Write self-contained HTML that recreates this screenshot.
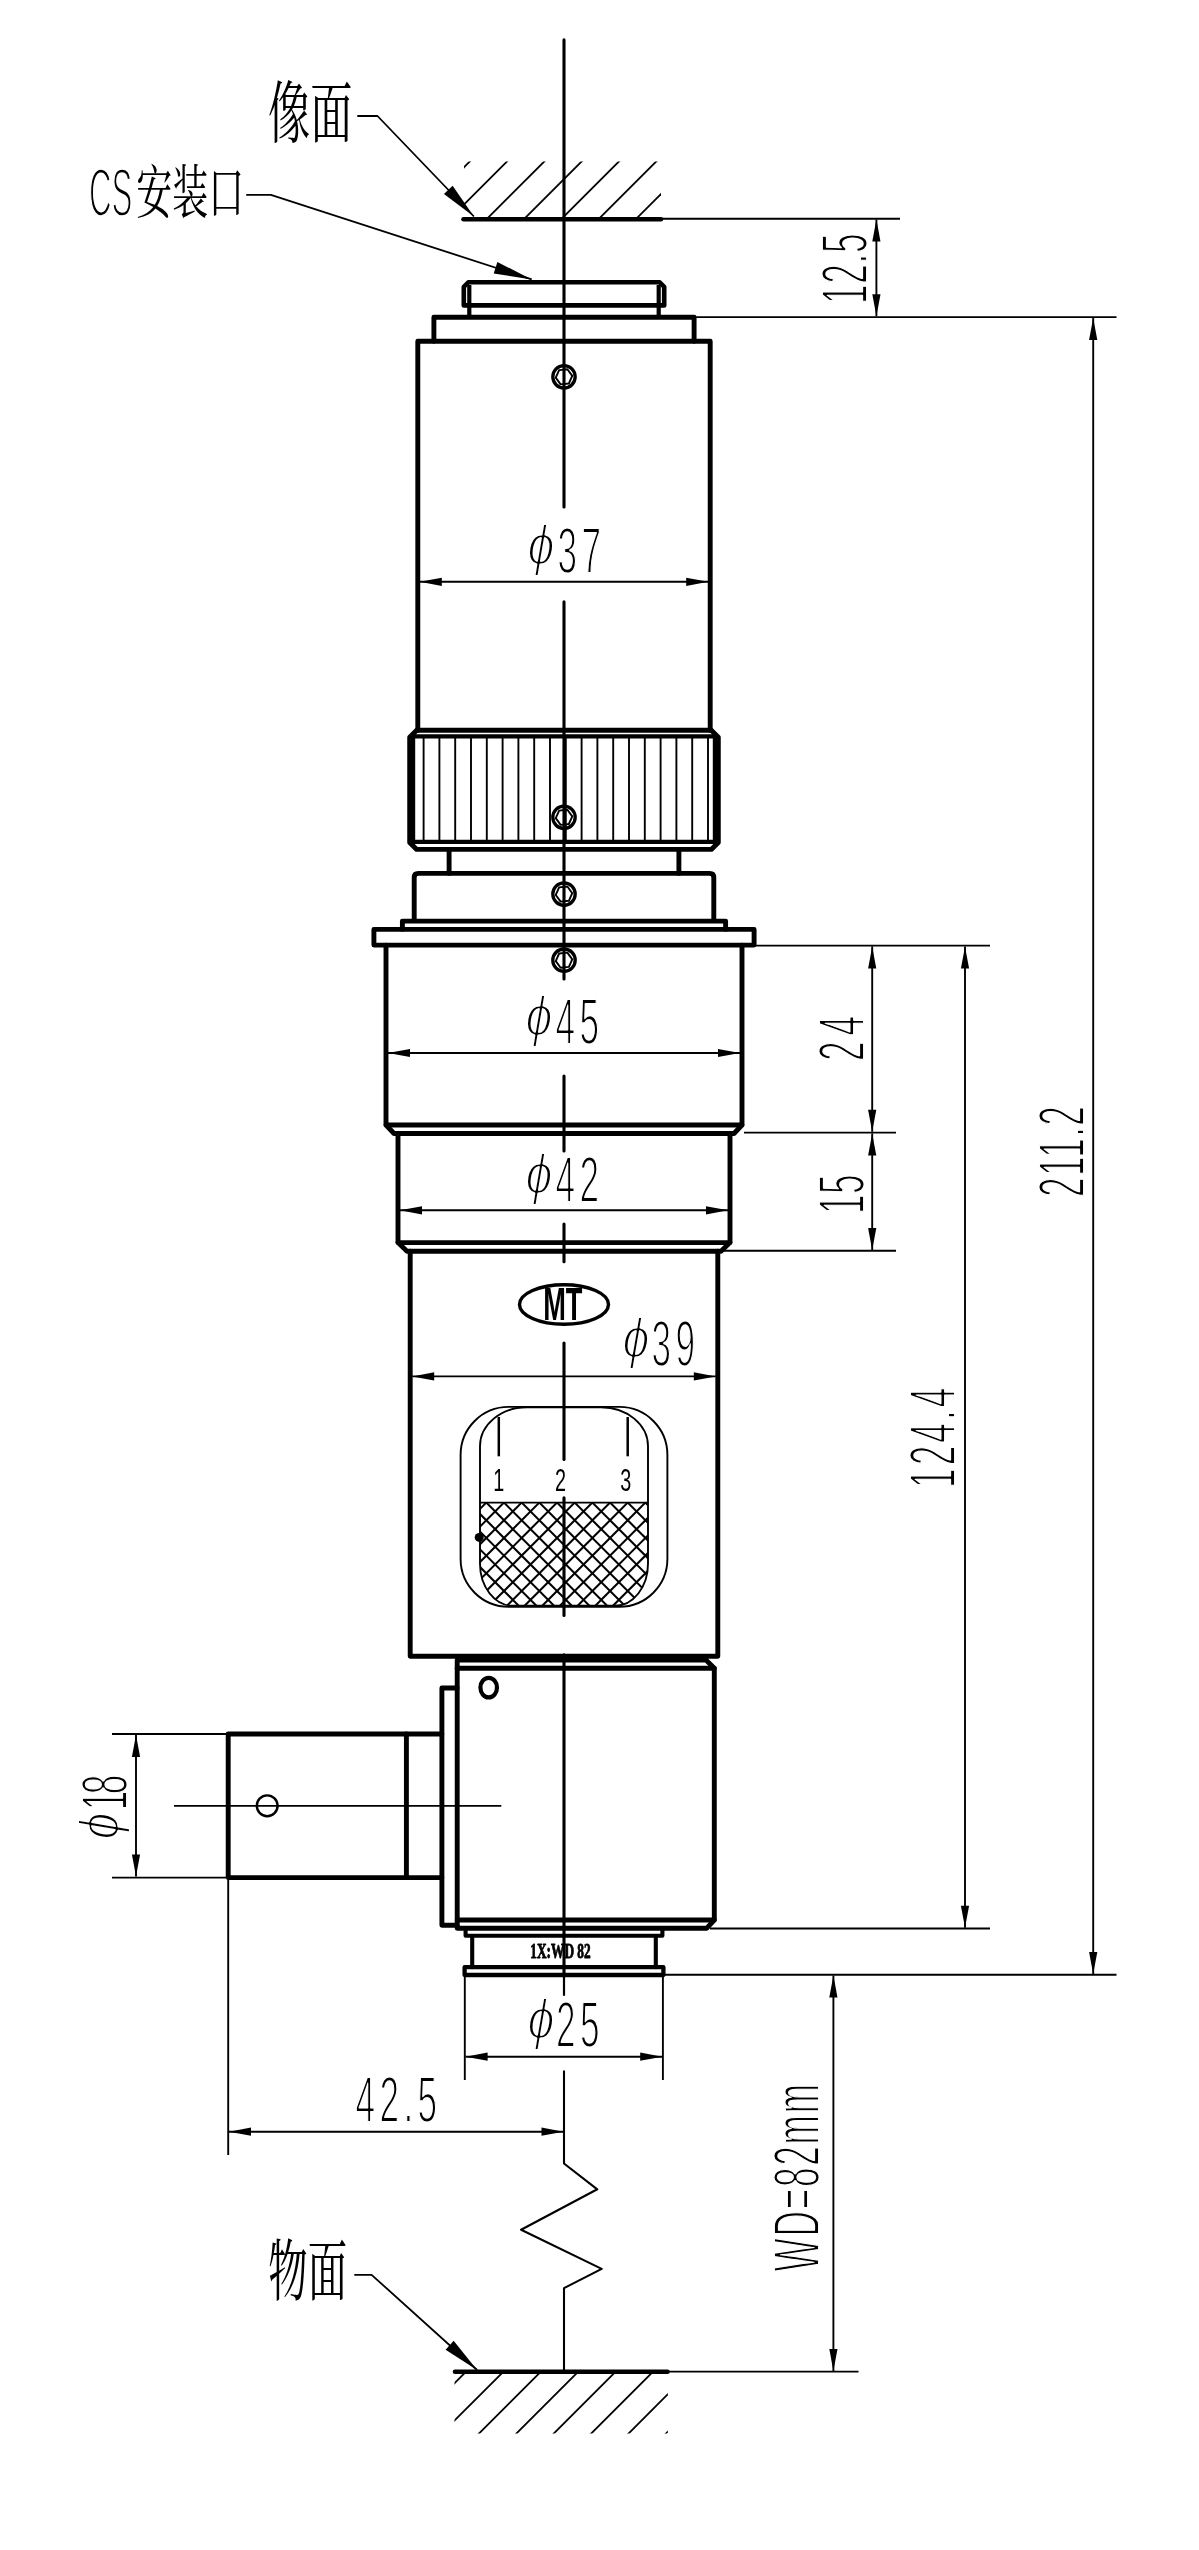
<!DOCTYPE html>
<html lang="zh"><head><meta charset="utf-8"><title>drawing</title>
<style>html,body{margin:0;padding:0;background:#fff}svg{display:block;will-change:transform;filter:grayscale(1)}</style></head>
<body>
<svg width="1199" height="2550" viewBox="0 0 1199 2550" fill="none" stroke="#000" stroke-linejoin="round">
<rect x="0" y="0" width="1199" height="2550" fill="#fff" stroke="none"/>
<text transform="translate(527.5 563.5) scale(0.76 0.86)" font-family="'Liberation Sans',sans-serif" font-size="64" font-weight="normal" font-style="italic" text-anchor="start" fill="#000" stroke="#fff" stroke-width="2.4" >ϕ</text>
<text transform="translate(557.5 572.5) scale(0.55 1)" font-family="'Liberation Sans',sans-serif" font-size="64" font-weight="normal" font-style="normal" text-anchor="start" fill="#000" stroke="#fff" stroke-width="1.9"  letter-spacing="8">37</text>
<text transform="translate(525.5 1034.5) scale(0.76 0.86)" font-family="'Liberation Sans',sans-serif" font-size="64" font-weight="normal" font-style="italic" text-anchor="start" fill="#000" stroke="#fff" stroke-width="2.4" >ϕ</text>
<text transform="translate(555.5 1043.7) scale(0.55 1)" font-family="'Liberation Sans',sans-serif" font-size="64" font-weight="normal" font-style="normal" text-anchor="start" fill="#000" stroke="#fff" stroke-width="1.9"  letter-spacing="8">45</text>
<text transform="translate(525.5 1192.5) scale(0.76 0.86)" font-family="'Liberation Sans',sans-serif" font-size="64" font-weight="normal" font-style="italic" text-anchor="start" fill="#000" stroke="#fff" stroke-width="2.4" >ϕ</text>
<text transform="translate(555.5 1201.5) scale(0.55 1)" font-family="'Liberation Sans',sans-serif" font-size="64" font-weight="normal" font-style="normal" text-anchor="start" fill="#000" stroke="#fff" stroke-width="1.9"  letter-spacing="8">42</text>
<text transform="translate(622.5 1357.3) scale(0.76 0.86)" font-family="'Liberation Sans',sans-serif" font-size="64" font-weight="normal" font-style="italic" text-anchor="start" fill="#000" stroke="#fff" stroke-width="2.4" >ϕ</text>
<text transform="translate(651.5 1366.3) scale(0.55 1)" font-family="'Liberation Sans',sans-serif" font-size="64" font-weight="normal" font-style="normal" text-anchor="start" fill="#000" stroke="#fff" stroke-width="1.9"  letter-spacing="8">39</text>
<text transform="translate(527.4 2037.8) scale(0.76 0.86)" font-family="'Liberation Sans',sans-serif" font-size="64" font-weight="normal" font-style="italic" text-anchor="start" fill="#000" stroke="#fff" stroke-width="2.4" >ϕ</text>
<text transform="translate(556 2046.8) scale(0.55 1)" font-family="'Liberation Sans',sans-serif" font-size="64" font-weight="normal" font-style="normal" text-anchor="start" fill="#000" stroke="#fff" stroke-width="1.9"  letter-spacing="8">25</text>
<text transform="translate(355.5 2121.7) scale(0.55 1)" font-family="'Liberation Sans',sans-serif" font-size="64" font-weight="normal" font-style="normal" text-anchor="start" fill="#000" stroke="#fff" stroke-width="1.9"  letter-spacing="8">42.5</text>
<text transform="translate(867.2 304) rotate(-90) scale(0.55 1)" font-family="'Liberation Sans',sans-serif" font-size="64" font-weight="normal" font-style="normal" text-anchor="start" fill="#000" stroke="#fff" stroke-width="1.9"  letter-spacing="1.3">12.5</text>
<text transform="translate(863.5 1061) rotate(-90) scale(0.55 1)" font-family="'Liberation Sans',sans-serif" font-size="64" font-weight="normal" font-style="normal" text-anchor="start" fill="#000" stroke="#fff" stroke-width="1.9"  letter-spacing="11">24</text>
<text transform="translate(863.5 1214) rotate(-90) scale(0.55 1)" font-family="'Liberation Sans',sans-serif" font-size="64" font-weight="normal" font-style="normal" text-anchor="start" fill="#000" stroke="#fff" stroke-width="1.9"  letter-spacing="0.7">15</text>
<text transform="translate(955.3 1488) rotate(-90) scale(0.55 1)" font-family="'Liberation Sans',sans-serif" font-size="64" font-weight="normal" font-style="normal" text-anchor="start" fill="#000" stroke="#fff" stroke-width="1.9"  letter-spacing="5.6">124.4</text>
<text transform="translate(1084 1197) rotate(-90) scale(0.55 1)" font-family="'Liberation Sans',sans-serif" font-size="64" font-weight="normal" font-style="normal" text-anchor="start" fill="#000" stroke="#fff" stroke-width="1.9"  letter-spacing="2.5">211.2</text>
<text transform="translate(819.3 2271.5) rotate(-90) scale(0.55 1)" font-family="'Liberation Sans',sans-serif" font-size="64" font-weight="normal" font-style="normal" text-anchor="start" fill="#000" stroke="#fff" stroke-width="1.9"  letter-spacing="3.2">WD=82mm</text>
<text transform="translate(117.5 1839.5) rotate(-90) scale(0.76 0.86)" font-family="'Liberation Sans',sans-serif" font-size="64" font-weight="normal" font-style="italic" text-anchor="start" fill="#000" stroke="#fff" stroke-width="2.4" >ϕ</text>
<text transform="translate(126.5 1810.2) rotate(-90) scale(0.55 1)" font-family="'Liberation Sans',sans-serif" font-size="64" font-weight="normal" font-style="normal" text-anchor="start" fill="#000" stroke="#fff" stroke-width="1.9"  letter-spacing="-6.5">18</text>
<text transform="translate(493.3 1490.6) scale(0.62 1)" font-family="'Liberation Sans',sans-serif" font-size="32" font-weight="normal" font-style="normal" text-anchor="start" fill="#000" stroke="none" >1</text>
<text transform="translate(555 1490.6) scale(0.62 1)" font-family="'Liberation Sans',sans-serif" font-size="32" font-weight="normal" font-style="normal" text-anchor="start" fill="#000" stroke="none" >2</text>
<text transform="translate(620.3 1490.6) scale(0.62 1)" font-family="'Liberation Sans',sans-serif" font-size="32" font-weight="normal" font-style="normal" text-anchor="start" fill="#000" stroke="none" >3</text>
<text transform="translate(562.8 1320.3) scale(0.585 1)" font-family="'Liberation Sans',sans-serif" font-size="46.5" font-weight="bold" font-style="normal" text-anchor="middle" fill="#000" stroke="none" >MT</text>
<text transform="translate(560.5 1957.8) scale(0.62 1)" font-family="'Liberation Serif',serif" font-size="21.5" font-weight="bold" font-style="normal" text-anchor="middle" fill="#000" stroke="#000" stroke-width="0.9" >1X:WD 82</text>
<text transform="translate(268 136.9) scale(0.63 1)" font-family="'Liberation Serif','Noto Serif CJK SC','Noto Sans CJK SC',serif" font-size="67" font-weight="normal" font-style="normal" text-anchor="start" fill="#000" stroke="none" >像面</text>
<text transform="translate(89 215.8) scale(0.46 1)" font-family="'Liberation Sans',sans-serif" font-size="68" font-weight="normal" font-style="normal" text-anchor="start" fill="#000" stroke="#fff" stroke-width="2.3" >CS</text>
<text transform="translate(136.3 212.5) scale(0.62 1)" font-family="'Liberation Serif','Noto Serif CJK SC','Noto Sans CJK SC',serif" font-size="58" font-weight="normal" font-style="normal" text-anchor="start" fill="#000" stroke="none" >安装口</text>
<text transform="translate(268.3 2294.7) scale(0.588 1)" font-family="'Liberation Serif','Noto Serif CJK SC','Noto Sans CJK SC',serif" font-size="67" font-weight="normal" font-style="normal" text-anchor="start" fill="#000" stroke="none" >物面</text>
<line x1="564" y1="39.9" x2="564" y2="507" stroke-width="3.1" stroke-linecap="round"/>
<line x1="564" y1="601.9" x2="564" y2="978.9" stroke-width="3.1" stroke-linecap="round"/>
<line x1="564" y1="1076" x2="564" y2="1151" stroke-width="3.1" stroke-linecap="round"/>
<line x1="564" y1="1224.1" x2="564" y2="1261.8" stroke-width="3.1" stroke-linecap="round"/>
<line x1="564" y1="1343.1" x2="564" y2="1459.5" stroke-width="3.1" stroke-linecap="round"/>
<line x1="564" y1="1497.8" x2="564" y2="1615.5" stroke-width="3.1" stroke-linecap="round"/>
<line x1="564" y1="1654.9" x2="564" y2="1975.5" stroke-width="3.1" stroke-linecap="round"/>
<line x1="564" y1="1975" x2="564" y2="1995" stroke-width="2.2" stroke-linecap="round"/>
<path d="M564 2070.5 L564 2163.5 L597.3 2189.3 L521.1 2229.7 L601.7 2268.9 L564 2288.1 L564 2371.6" stroke-width="2.1" stroke-linejoin="round" stroke-linecap="butt"/>
<clipPath id="h1"><rect x="464" y="161.4" width="197" height="57"/></clipPath>
<g clip-path="url(#h1)">
<line x1="404.2" y1="227" x2="484.2" y2="147" stroke-width="1.8" stroke-linecap="butt"/>
<line x1="441.5" y1="227" x2="521.5" y2="147" stroke-width="1.8" stroke-linecap="butt"/>
<line x1="478.8" y1="227" x2="558.8" y2="147" stroke-width="1.8" stroke-linecap="butt"/>
<line x1="516.1" y1="227" x2="596.1" y2="147" stroke-width="1.8" stroke-linecap="butt"/>
<line x1="553.4" y1="227" x2="633.4" y2="147" stroke-width="1.8" stroke-linecap="butt"/>
<line x1="590.7" y1="227" x2="670.7" y2="147" stroke-width="1.8" stroke-linecap="butt"/>
<line x1="628" y1="227" x2="708" y2="147" stroke-width="1.8" stroke-linecap="butt"/>
<line x1="665.3" y1="227" x2="745.3" y2="147" stroke-width="1.8" stroke-linecap="butt"/>
</g>
<line x1="463.5" y1="219.2" x2="661" y2="219.2" stroke-width="4.6" stroke-linecap="round"/>
<line x1="661" y1="218.7" x2="900" y2="218.7" stroke-width="1.9" stroke-linecap="butt"/>
<path d="M357.3 116 L377.5 116 L473.9 216.5" stroke-width="1.8" stroke-linejoin="round" stroke-linecap="butt"/>
<polygon points="473.9,216.5 443.96,193.95 452.62,185.64" fill="#000" stroke="none"/>
<path d="M246.2 194.9 L270.9 194.9 L531.7 279.4" stroke-width="1.8" stroke-linejoin="round" stroke-linecap="butt"/>
<polygon points="531.7,279.4 493.7,273.4 497.4,261.98" fill="#000" stroke="none"/>
<path d="M463.8 305.4 L463.8 286.8 L468.3 282.3 L659.7 282.3 L664.2 286.8 L664.2 305.4 Z" stroke-width="4.6" stroke-linejoin="round" stroke-linecap="round"/>
<line x1="469.3" y1="285" x2="469.3" y2="317" stroke-width="4.2" stroke-linecap="butt"/>
<line x1="658.7" y1="285" x2="658.7" y2="317" stroke-width="4.2" stroke-linecap="butt"/>
<path d="M433.9 341.2 L433.9 317.2 L694.1 317.2 L694.1 341.2" stroke-width="4.9" stroke-linejoin="round" stroke-linecap="round"/>
<line x1="694.1" y1="317.1" x2="1116.5" y2="317.1" stroke-width="1.9" stroke-linecap="butt"/>
<path d="M417.8 730.2 L417.8 341.2 L710.2 341.2 L710.2 730.2" stroke-width="4.9" stroke-linejoin="round" stroke-linecap="round"/>
<circle cx="564" cy="376.8" r="11.2" stroke-width="3.3"/>
<path d="M572.25 375.93 L568.88 383.51 L560.62 384.38 L555.75 377.67 L559.12 370.09 L567.38 369.22 Z" stroke-width="1.9" stroke-linejoin="round" stroke-linecap="butt"/>
<line x1="419.8" y1="581.8" x2="708.2" y2="581.8" stroke-width="1.9" stroke-linecap="butt"/>
<polygon points="419.8,581.8 441.8,577.7 441.8,585.9" fill="#000" stroke="none"/>
<polygon points="708.2,581.8 686.2,585.9 686.2,577.7" fill="#000" stroke="none"/>
<path d="M416.7 730.2 L711.3 730.2 L718.3 737.2 L718.3 842.4 L711.3 849.4 L416.7 849.4 L409.7 842.4 L409.7 737.2 Z" stroke-width="4.9" stroke-linejoin="round" stroke-linecap="round"/>
<rect x="413.1" y="736.4" width="301.8" height="105.4" stroke-width="4.2"/>
<line x1="423.6" y1="738" x2="423.6" y2="840" stroke-width="1.9" stroke-linecap="butt"/>
<line x1="439.4" y1="738" x2="439.4" y2="840" stroke-width="1.9" stroke-linecap="butt"/>
<line x1="455.2" y1="738" x2="455.2" y2="840" stroke-width="1.9" stroke-linecap="butt"/>
<line x1="471" y1="738" x2="471" y2="840" stroke-width="1.9" stroke-linecap="butt"/>
<line x1="486.8" y1="738" x2="486.8" y2="840" stroke-width="1.9" stroke-linecap="butt"/>
<line x1="502.6" y1="738" x2="502.6" y2="840" stroke-width="1.9" stroke-linecap="butt"/>
<line x1="518.4" y1="738" x2="518.4" y2="840" stroke-width="1.9" stroke-linecap="butt"/>
<line x1="534.2" y1="738" x2="534.2" y2="840" stroke-width="1.9" stroke-linecap="butt"/>
<line x1="550" y1="738" x2="550" y2="840" stroke-width="1.9" stroke-linecap="butt"/>
<line x1="565.8" y1="738" x2="565.8" y2="840" stroke-width="1.9" stroke-linecap="butt"/>
<line x1="581.6" y1="738" x2="581.6" y2="840" stroke-width="1.9" stroke-linecap="butt"/>
<line x1="597.4" y1="738" x2="597.4" y2="840" stroke-width="1.9" stroke-linecap="butt"/>
<line x1="613.2" y1="738" x2="613.2" y2="840" stroke-width="1.9" stroke-linecap="butt"/>
<line x1="629" y1="738" x2="629" y2="840" stroke-width="1.9" stroke-linecap="butt"/>
<line x1="644.8" y1="738" x2="644.8" y2="840" stroke-width="1.9" stroke-linecap="butt"/>
<line x1="660.6" y1="738" x2="660.6" y2="840" stroke-width="1.9" stroke-linecap="butt"/>
<line x1="676.4" y1="738" x2="676.4" y2="840" stroke-width="1.9" stroke-linecap="butt"/>
<line x1="692.2" y1="738" x2="692.2" y2="840" stroke-width="1.9" stroke-linecap="butt"/>
<line x1="708" y1="738" x2="708" y2="840" stroke-width="1.9" stroke-linecap="butt"/>
<circle cx="564" cy="817.3" r="11.2" stroke-width="3.3"/>
<path d="M572.25 816.43 L568.88 824.01 L560.62 824.88 L555.75 818.17 L559.12 810.59 L567.38 809.72 Z" stroke-width="1.9" stroke-linejoin="round" stroke-linecap="butt"/>
<line x1="449.1" y1="849.4" x2="449.1" y2="873.4" stroke-width="4.9" stroke-linecap="round"/>
<line x1="678.9" y1="849.4" x2="678.9" y2="873.4" stroke-width="4.9" stroke-linecap="round"/>
<path d="M414.2 921.1 V877.4 Q414.2 873.4 418.2 873.4 H709.8 Q713.8 873.4 713.8 877.4 V921.1" stroke-width="4.9"/>
<circle cx="564" cy="894.1" r="11.2" stroke-width="3.3"/>
<path d="M572.25 893.23 L568.88 900.81 L560.62 901.68 L555.75 894.97 L559.12 887.39 L567.38 886.52 Z" stroke-width="1.9" stroke-linejoin="round" stroke-linecap="butt"/>
<path d="M402.4 929.4 L402.4 921.1 L725.6 921.1 L725.6 929.4" stroke-width="4.9" stroke-linejoin="round" stroke-linecap="round"/>
<rect x="373.9" y="929.4" width="380.2" height="15.7" stroke-width="4.9"/>
<line x1="755" y1="945.6" x2="990" y2="945.6" stroke-width="1.9" stroke-linecap="butt"/>
<path d="M386 945.1 L386 1125 L394 1133.5 L734 1133.5 L742 1125 L742 945.1" stroke-width="4.9" stroke-linejoin="round" stroke-linecap="round"/>
<line x1="386" y1="1125" x2="742" y2="1125" stroke-width="4.9" stroke-linecap="round"/>
<circle cx="564" cy="960.2" r="11.2" stroke-width="3.3"/>
<path d="M572.25 959.33 L568.88 966.91 L560.62 967.78 L555.75 961.07 L559.12 953.49 L567.38 952.62 Z" stroke-width="1.9" stroke-linejoin="round" stroke-linecap="butt"/>
<line x1="388" y1="1053" x2="740" y2="1053" stroke-width="1.9" stroke-linecap="butt"/>
<polygon points="388,1053 410,1048.9 410,1057.1" fill="#000" stroke="none"/>
<polygon points="740,1053 718,1057.1 718,1048.9" fill="#000" stroke="none"/>
<path d="M398 1133.5 L398 1242.6 L407 1251.2 L721 1251.2 L730 1242.6 L730 1133.5" stroke-width="4.9" stroke-linejoin="round" stroke-linecap="round"/>
<line x1="398" y1="1242.6" x2="730" y2="1242.6" stroke-width="4.9" stroke-linecap="round"/>
<line x1="400" y1="1210.3" x2="728" y2="1210.3" stroke-width="1.9" stroke-linecap="butt"/>
<polygon points="400,1210.3 422,1206.2 422,1214.4" fill="#000" stroke="none"/>
<polygon points="728,1210.3 706,1214.4 706,1206.2" fill="#000" stroke="none"/>
<line x1="744" y1="1132.6" x2="896" y2="1132.6" stroke-width="1.9" stroke-linecap="butt"/>
<line x1="722" y1="1250.8" x2="896" y2="1250.8" stroke-width="1.9" stroke-linecap="butt"/>
<path d="M410.2 1251.2 L410.2 1656.2 L717.8 1656.2 L717.8 1251.2" stroke-width="4.9" stroke-linejoin="round" stroke-linecap="round"/>
<ellipse cx="564.0" cy="1304.5" rx="44.5" ry="19.8" stroke-width="3.4"/>
<line x1="412.2" y1="1376.4" x2="715.8" y2="1376.4" stroke-width="1.9" stroke-linecap="butt"/>
<polygon points="412.2,1376.4 434.2,1372.3 434.2,1380.5" fill="#000" stroke="none"/>
<polygon points="715.8,1376.4 693.8,1380.5 693.8,1372.3" fill="#000" stroke="none"/>
<rect x="460.6" y="1406.9" width="206.8" height="199.9" rx="48" ry="48" stroke-width="1.9"/>
<path d="M480 1446.2 A47 39 0 0 1 527 1407.2 H601 A47 39 0 0 1 648 1446.2 V1563.8 A33 42 0 0 1 615 1605.8 H513 A33 42 0 0 1 480 1563.8 Z" stroke-width="1.9"/>
<clipPath id="h2"><path d="M480 1446.2 A47 39 0 0 1 527 1407.2 H601 A47 39 0 0 1 648 1446.2 V1563.8 A33 42 0 0 1 615 1605.8 H513 A33 42 0 0 1 480 1563.8 Z"/></clipPath><clipPath id="h3"><rect x="470" y="1502.6" width="190" height="110"/></clipPath>
<g clip-path="url(#h3)"><g clip-path="url(#h2)">
<line x1="344.86" y1="1502.6" x2="454.86" y2="1612.6" stroke-width="2.05" stroke-linecap="butt"/>
<line x1="344.86" y1="1502.6" x2="234.86" y2="1612.6" stroke-width="2.05" stroke-linecap="butt"/>
<line x1="362.54" y1="1502.6" x2="472.54" y2="1612.6" stroke-width="2.05" stroke-linecap="butt"/>
<line x1="362.54" y1="1502.6" x2="252.54" y2="1612.6" stroke-width="2.05" stroke-linecap="butt"/>
<line x1="380.22" y1="1502.6" x2="490.22" y2="1612.6" stroke-width="2.05" stroke-linecap="butt"/>
<line x1="380.22" y1="1502.6" x2="270.22" y2="1612.6" stroke-width="2.05" stroke-linecap="butt"/>
<line x1="397.9" y1="1502.6" x2="507.9" y2="1612.6" stroke-width="2.05" stroke-linecap="butt"/>
<line x1="397.9" y1="1502.6" x2="287.9" y2="1612.6" stroke-width="2.05" stroke-linecap="butt"/>
<line x1="415.58" y1="1502.6" x2="525.58" y2="1612.6" stroke-width="2.05" stroke-linecap="butt"/>
<line x1="415.58" y1="1502.6" x2="305.58" y2="1612.6" stroke-width="2.05" stroke-linecap="butt"/>
<line x1="433.26" y1="1502.6" x2="543.26" y2="1612.6" stroke-width="2.05" stroke-linecap="butt"/>
<line x1="433.26" y1="1502.6" x2="323.26" y2="1612.6" stroke-width="2.05" stroke-linecap="butt"/>
<line x1="450.94" y1="1502.6" x2="560.94" y2="1612.6" stroke-width="2.05" stroke-linecap="butt"/>
<line x1="450.94" y1="1502.6" x2="340.94" y2="1612.6" stroke-width="2.05" stroke-linecap="butt"/>
<line x1="468.62" y1="1502.6" x2="578.62" y2="1612.6" stroke-width="2.05" stroke-linecap="butt"/>
<line x1="468.62" y1="1502.6" x2="358.62" y2="1612.6" stroke-width="2.05" stroke-linecap="butt"/>
<line x1="486.3" y1="1502.6" x2="596.3" y2="1612.6" stroke-width="2.05" stroke-linecap="butt"/>
<line x1="486.3" y1="1502.6" x2="376.3" y2="1612.6" stroke-width="2.05" stroke-linecap="butt"/>
<line x1="503.98" y1="1502.6" x2="613.98" y2="1612.6" stroke-width="2.05" stroke-linecap="butt"/>
<line x1="503.98" y1="1502.6" x2="393.98" y2="1612.6" stroke-width="2.05" stroke-linecap="butt"/>
<line x1="521.66" y1="1502.6" x2="631.66" y2="1612.6" stroke-width="2.05" stroke-linecap="butt"/>
<line x1="521.66" y1="1502.6" x2="411.66" y2="1612.6" stroke-width="2.05" stroke-linecap="butt"/>
<line x1="539.34" y1="1502.6" x2="649.34" y2="1612.6" stroke-width="2.05" stroke-linecap="butt"/>
<line x1="539.34" y1="1502.6" x2="429.34" y2="1612.6" stroke-width="2.05" stroke-linecap="butt"/>
<line x1="557.02" y1="1502.6" x2="667.02" y2="1612.6" stroke-width="2.05" stroke-linecap="butt"/>
<line x1="557.02" y1="1502.6" x2="447.02" y2="1612.6" stroke-width="2.05" stroke-linecap="butt"/>
<line x1="574.7" y1="1502.6" x2="684.7" y2="1612.6" stroke-width="2.05" stroke-linecap="butt"/>
<line x1="574.7" y1="1502.6" x2="464.7" y2="1612.6" stroke-width="2.05" stroke-linecap="butt"/>
<line x1="592.38" y1="1502.6" x2="702.38" y2="1612.6" stroke-width="2.05" stroke-linecap="butt"/>
<line x1="592.38" y1="1502.6" x2="482.38" y2="1612.6" stroke-width="2.05" stroke-linecap="butt"/>
<line x1="610.06" y1="1502.6" x2="720.06" y2="1612.6" stroke-width="2.05" stroke-linecap="butt"/>
<line x1="610.06" y1="1502.6" x2="500.06" y2="1612.6" stroke-width="2.05" stroke-linecap="butt"/>
<line x1="627.74" y1="1502.6" x2="737.74" y2="1612.6" stroke-width="2.05" stroke-linecap="butt"/>
<line x1="627.74" y1="1502.6" x2="517.74" y2="1612.6" stroke-width="2.05" stroke-linecap="butt"/>
<line x1="645.42" y1="1502.6" x2="755.42" y2="1612.6" stroke-width="2.05" stroke-linecap="butt"/>
<line x1="645.42" y1="1502.6" x2="535.42" y2="1612.6" stroke-width="2.05" stroke-linecap="butt"/>
<line x1="663.1" y1="1502.6" x2="773.1" y2="1612.6" stroke-width="2.05" stroke-linecap="butt"/>
<line x1="663.1" y1="1502.6" x2="553.1" y2="1612.6" stroke-width="2.05" stroke-linecap="butt"/>
<line x1="680.78" y1="1502.6" x2="790.78" y2="1612.6" stroke-width="2.05" stroke-linecap="butt"/>
<line x1="680.78" y1="1502.6" x2="570.78" y2="1612.6" stroke-width="2.05" stroke-linecap="butt"/>
<line x1="698.46" y1="1502.6" x2="808.46" y2="1612.6" stroke-width="2.05" stroke-linecap="butt"/>
<line x1="698.46" y1="1502.6" x2="588.46" y2="1612.6" stroke-width="2.05" stroke-linecap="butt"/>
<line x1="716.14" y1="1502.6" x2="826.14" y2="1612.6" stroke-width="2.05" stroke-linecap="butt"/>
<line x1="716.14" y1="1502.6" x2="606.14" y2="1612.6" stroke-width="2.05" stroke-linecap="butt"/>
<line x1="733.82" y1="1502.6" x2="843.82" y2="1612.6" stroke-width="2.05" stroke-linecap="butt"/>
<line x1="733.82" y1="1502.6" x2="623.82" y2="1612.6" stroke-width="2.05" stroke-linecap="butt"/>
<line x1="751.5" y1="1502.6" x2="861.5" y2="1612.6" stroke-width="2.05" stroke-linecap="butt"/>
<line x1="751.5" y1="1502.6" x2="641.5" y2="1612.6" stroke-width="2.05" stroke-linecap="butt"/>
<line x1="769.18" y1="1502.6" x2="879.18" y2="1612.6" stroke-width="2.05" stroke-linecap="butt"/>
<line x1="769.18" y1="1502.6" x2="659.18" y2="1612.6" stroke-width="2.05" stroke-linecap="butt"/>
<line x1="786.86" y1="1502.6" x2="896.86" y2="1612.6" stroke-width="2.05" stroke-linecap="butt"/>
<line x1="786.86" y1="1502.6" x2="676.86" y2="1612.6" stroke-width="2.05" stroke-linecap="butt"/>
</g></g>
<line x1="480" y1="1502.6" x2="648" y2="1502.6" stroke-width="1.9" stroke-linecap="butt"/>
<line x1="498.8" y1="1417" x2="498.8" y2="1456.3" stroke-width="2.5" stroke-linecap="butt"/>
<line x1="627.7" y1="1417" x2="627.7" y2="1456.3" stroke-width="2.5" stroke-linecap="butt"/>
<circle cx="479.2" cy="1537.4" r="4.5" fill="#000" stroke="none"/>
<path d="M457.2 1928.3 L457.2 1660 L706 1660 L714.3 1668.2 L714.3 1920 L706.6 1928.3 L457.2 1928.3" stroke-width="4.9" stroke-linejoin="round" stroke-linecap="round"/>
<line x1="457.2" y1="1668.2" x2="714.3" y2="1668.2" stroke-width="4.9" stroke-linecap="round"/>
<line x1="457.2" y1="1920" x2="714.3" y2="1920" stroke-width="4.9" stroke-linecap="round"/>
<ellipse cx="488.7" cy="1687.6" rx="8.3" ry="9.8" stroke-width="4.2"/>
<path d="M457.2 1688 L441.9 1688 L441.9 1925.2 L457.2 1925.2" stroke-width="4.9" stroke-linejoin="round" stroke-linecap="round"/>
<path d="M441.9 1734 L228.2 1734 L228.2 1877.6 L441.9 1877.6" stroke-width="4.9" stroke-linejoin="round" stroke-linecap="round"/>
<line x1="406.4" y1="1734" x2="406.4" y2="1877.6" stroke-width="4.9" stroke-linecap="round"/>
<circle cx="267.2" cy="1805.8" r="10.4" stroke-width="2.4"/>
<line x1="174" y1="1805.9" x2="501.3" y2="1805.9" stroke-width="1.9" stroke-linecap="butt"/>
<line x1="112" y1="1734" x2="228" y2="1734" stroke-width="1.9" stroke-linecap="butt"/>
<line x1="112" y1="1877.6" x2="228" y2="1877.6" stroke-width="1.9" stroke-linecap="butt"/>
<line x1="136" y1="1735" x2="136" y2="1876.6" stroke-width="1.9" stroke-linecap="butt"/>
<polygon points="136,1735 140.1,1757 131.9,1757" fill="#000" stroke="none"/>
<polygon points="136,1876.6 131.9,1854.6 140.1,1854.6" fill="#000" stroke="none"/>
<path d="M465.6 1929 L465.6 1935.8 L662.4 1935.8 L662.4 1929" stroke-width="4.1" stroke-linejoin="round" stroke-linecap="round"/>
<line x1="472.2" y1="1936" x2="472.2" y2="1967.2" stroke-width="4.1" stroke-linecap="round"/>
<line x1="655.8" y1="1936" x2="655.8" y2="1967.2" stroke-width="4.1" stroke-linecap="round"/>
<rect x="464.6" y="1967.2" width="198.8" height="7.8" stroke-width="4.3"/>
<line x1="710" y1="1928.5" x2="990" y2="1928.5" stroke-width="1.9" stroke-linecap="butt"/>
<line x1="664" y1="1974.8" x2="1116.5" y2="1974.8" stroke-width="1.9" stroke-linecap="butt"/>
<line x1="464.8" y1="1977" x2="464.8" y2="2080" stroke-width="1.9" stroke-linecap="butt"/>
<line x1="662.9" y1="1977" x2="662.9" y2="2080" stroke-width="1.9" stroke-linecap="butt"/>
<line x1="465.6" y1="2056.7" x2="662.2" y2="2056.7" stroke-width="1.9" stroke-linecap="butt"/>
<polygon points="465.6,2056.7 487.6,2052.6 487.6,2060.8" fill="#000" stroke="none"/>
<polygon points="662.2,2056.7 640.2,2060.8 640.2,2052.6" fill="#000" stroke="none"/>
<line x1="228.2" y1="1877" x2="228.2" y2="2155" stroke-width="1.9" stroke-linecap="butt"/>
<line x1="229" y1="2131.7" x2="563.5" y2="2131.7" stroke-width="1.9" stroke-linecap="butt"/>
<polygon points="229,2131.7 251,2127.6 251,2135.8" fill="#000" stroke="none"/>
<polygon points="563.5,2131.7 541.5,2135.8 541.5,2127.6" fill="#000" stroke="none"/>
<line x1="876.4" y1="219.5" x2="876.4" y2="316.3" stroke-width="1.9" stroke-linecap="butt"/>
<polygon points="876.4,219.5 880.5,241.5 872.3,241.5" fill="#000" stroke="none"/>
<polygon points="876.4,316.3 872.3,294.3 880.5,294.3" fill="#000" stroke="none"/>
<line x1="872.2" y1="946.4" x2="872.2" y2="1131.8" stroke-width="1.9" stroke-linecap="butt"/>
<polygon points="872.2,946.4 876.3,968.4 868.1,968.4" fill="#000" stroke="none"/>
<polygon points="872.2,1131.8 868.1,1109.8 876.3,1109.8" fill="#000" stroke="none"/>
<line x1="872.2" y1="1133.4" x2="872.2" y2="1250" stroke-width="1.9" stroke-linecap="butt"/>
<polygon points="872.2,1133.4 876.3,1155.4 868.1,1155.4" fill="#000" stroke="none"/>
<polygon points="872.2,1250 868.1,1228 876.3,1228" fill="#000" stroke="none"/>
<line x1="965" y1="946.4" x2="965" y2="1927.7" stroke-width="1.9" stroke-linecap="butt"/>
<polygon points="965,946.4 969.1,968.4 960.9,968.4" fill="#000" stroke="none"/>
<polygon points="965,1927.7 960.9,1905.7 969.1,1905.7" fill="#000" stroke="none"/>
<line x1="1093.2" y1="318" x2="1093.2" y2="1974" stroke-width="1.9" stroke-linecap="butt"/>
<polygon points="1093.2,318 1097.3,340 1089.1,340" fill="#000" stroke="none"/>
<polygon points="1093.2,1974 1089.1,1952 1097.3,1952" fill="#000" stroke="none"/>
<line x1="833.4" y1="1975.6" x2="833.4" y2="2371" stroke-width="1.9" stroke-linecap="butt"/>
<polygon points="833.4,1975.6 837.5,1997.6 829.3,1997.6" fill="#000" stroke="none"/>
<polygon points="833.4,2371 829.3,2349 837.5,2349" fill="#000" stroke="none"/>
<clipPath id="h4"><rect x="454.5" y="2373" width="213.3" height="60.5"/></clipPath>
<g clip-path="url(#h4)">
<line x1="468.7" y1="2369" x2="393.7" y2="2444" stroke-width="1.8" stroke-linecap="butt"/>
<line x1="506.1" y1="2369" x2="431.1" y2="2444" stroke-width="1.8" stroke-linecap="butt"/>
<line x1="543.5" y1="2369" x2="468.5" y2="2444" stroke-width="1.8" stroke-linecap="butt"/>
<line x1="580.9" y1="2369" x2="505.9" y2="2444" stroke-width="1.8" stroke-linecap="butt"/>
<line x1="618.3" y1="2369" x2="543.3" y2="2444" stroke-width="1.8" stroke-linecap="butt"/>
<line x1="655.7" y1="2369" x2="580.7" y2="2444" stroke-width="1.8" stroke-linecap="butt"/>
<line x1="693.1" y1="2369" x2="618.1" y2="2444" stroke-width="1.8" stroke-linecap="butt"/>
<line x1="730.5" y1="2369" x2="655.5" y2="2444" stroke-width="1.8" stroke-linecap="butt"/>
</g>
<line x1="455" y1="2371.8" x2="667.5" y2="2371.8" stroke-width="4.6" stroke-linecap="round"/>
<line x1="667" y1="2371.6" x2="858.5" y2="2371.6" stroke-width="1.9" stroke-linecap="butt"/>
<path d="M354.3 2274.8 L371.6 2274.8 L477.1 2370" stroke-width="1.8" stroke-linejoin="round" stroke-linecap="butt"/>
<polygon points="477.1,2370 445.61,2349.67 453.65,2340.76" fill="#000" stroke="none"/>
</svg>
</body></html>
